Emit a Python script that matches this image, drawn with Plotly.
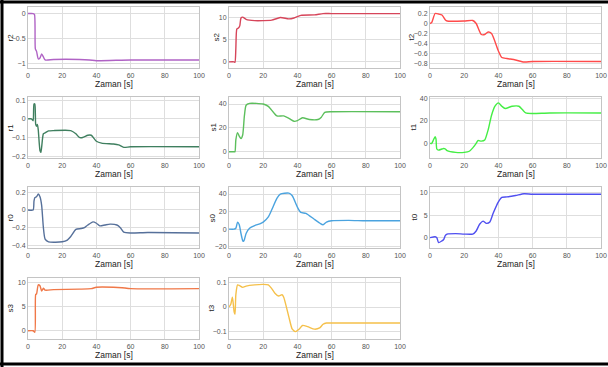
import plotly.graph_objects as go

# ---------------- data ----------------
r2_t = [0, 3, 3.8, 4.3, 5, 6, 7, 8, 9, 10, 15, 30, 36, 40, 60, 100]
r2_v = [0, 0, -0.02, -0.7, -0.75, -0.9, -0.88, -0.8, -0.86, -0.92, -0.91, -0.91, -0.92, -0.935, -0.92, -0.92]

s2_t = [0, 3, 3.5, 4, 4.6, 5.5, 6.3, 7, 8, 10, 15, 20, 25, 30, 35, 38, 42, 50, 55, 60, 100]
s2_v = [0, 0, -0.1, 3, 7.5, 7.7, 8.2, 10, 10.2, 9.7, 9.4, 9.4, 9.5, 10.1, 9.8, 10.0, 10.6, 10.7, 11, 11, 11]

t2_t = [0, 1, 3, 5, 7, 9, 10, 20, 25, 27, 30, 32, 34, 36, 40, 42, 45, 50, 55, 60, 100]
t2_v = [0, 0.02, 0.2, 0.19, 0.17, 0.07, 0.05, 0.05, 0.06, 0.0, -0.22, -0.22, -0.17, -0.2, -0.55, -0.68, -0.7, -0.73, -0.77, -0.76, -0.76]

r1_t = [0, 2, 3, 3.5, 4, 4.5, 5, 5.5, 6, 7, 7.5, 8, 9, 10, 12, 15, 25, 28, 30, 32, 35, 37, 40, 43, 50, 53, 56, 60, 100]
r1_v = [0, 0, -0.01, 0.08, 0.08, -0.03, -0.04, -0.03, -0.06, -0.17, -0.18, -0.15, -0.08, -0.075, -0.065, -0.063, -0.063, -0.08, -0.1, -0.1, -0.088, -0.088, -0.12, -0.13, -0.135, -0.14, -0.153, -0.15, -0.15]

s1_t = [0, 3, 3.5, 4, 5, 6, 7, 8, 9, 10, 12, 20, 23, 26, 28, 32, 35, 38, 40, 43, 47, 52, 54, 56, 60, 100]
s1_v = [0, 0, 0, 10, 16, 13, 11, 14, 30, 39, 40.5, 40, 38, 33, 30, 30, 28, 25.5, 26, 28.5, 27, 27, 29, 33, 33.5, 33.5]

t1_t = [0, 1, 2, 3, 3.5, 4, 5, 7, 8, 9, 10, 15, 20, 23, 25, 27, 28, 30, 32, 34, 36, 38, 40, 42, 44, 48, 52, 54, 56, 60, 70, 100]
t1_v = [0, 0, 3, 6, 4, -5, -6, -5, -4.5, -5, -6.5, -8, -8, -7, -4, 0, 2.5, 2, 3, 12, 25, 33, 36, 33, 31, 33, 33, 30, 27, 26.5, 27, 27]

r0_t = [0, 3, 3.5, 4, 5, 6, 7, 8, 9, 10, 12, 15, 20, 23, 25, 28, 31, 33, 35, 38, 40, 42, 45, 48, 52, 54, 56, 60, 70, 100]
r0_v = [0, 0, 0.1, 0.14, 0.15, 0.18, 0.15, 0.05, -0.2, -0.33, -0.36, -0.365, -0.36, -0.34, -0.3, -0.22, -0.21, -0.2, -0.17, -0.135, -0.15, -0.18, -0.17, -0.16, -0.17, -0.2, -0.25, -0.26, -0.255, -0.26]

s0_t = [0, 3, 4, 5, 6, 7, 8, 8.5, 9, 10, 12, 15, 18, 20, 23, 25, 28, 30, 35, 37, 40, 42, 45, 50, 53, 55, 57, 60, 70, 80, 100]
s0_v = [0, 0, 1, 8, 5, -5, -13, -14, -12, -5, 1, 4, 6, 8, 14, 22, 35, 40, 41, 38, 25, 19, 18, 11, 7, 5, 8, 9.5, 10, 9.5, 9.5]

t0_t = [0, 3, 4, 5, 7, 8, 9, 10, 15, 20, 25, 27, 29, 31, 33, 35, 37, 40, 42, 45, 50, 55, 60, 100]
t0_v = [0, 0.2, 0, -1.1, -0.7, -0.4, 0.5, 0.8, 0.9, 0.8, 0.8, 1.5, 3, 3.7, 3.2, 3.5, 5.5, 8, 9, 9.1, 9.4, 9.8, 9.7, 9.7]

s3_t = [0, 3, 4, 4.5, 5, 6, 7, 8, 9, 10, 15, 30, 37, 40, 50, 55, 60, 100]
s3_v = [0, 0, -0.3, 7.5, 7.6, 9.5, 9.3, 8.2, 8.8, 8.4, 8.5, 8.6, 8.7, 9, 9, 8.9, 8.7, 8.7]

t3_t = [0, 1, 2, 3, 3.5, 4, 5, 6, 8, 10, 15, 20, 23, 25, 27, 29, 31, 32, 35, 37, 39, 41, 43, 46, 50, 53, 55, 57, 60, 100]
t3_v = [0, 0.01, 0.04, -0.02, -0.03, 0.05, 0.09, 0.088, 0.08, 0.085, 0.09, 0.092, 0.09, 0.075, 0.055, 0.045, 0.05, 0.04, -0.04, -0.09, -0.1, -0.09, -0.075, -0.08, -0.09, -0.085, -0.07, -0.065, -0.065, -0.065]

x_ticks = [0, 20, 40, 60, 80, 100]
x_title = "Zaman [s]"

# name, time, values, colour, y-range, y-ticks, (row, col), title x (px)
panels = [
    ("r2", r2_t, r2_v, "#b063c5", [-1.08, 0.13], [0, -0.5, -1], (0, 0), 10),
    ("s2", s2_t, s2_v, "#d6455a", [-1.4, 12.5], [0, 5, 10], (0, 1), 216),
    ("t2", t2_t, t2_v, "#ff4a4a", [-0.89, 0.33], [0.2, 0, -0.2, -0.4, -0.6, -0.8], (0, 2), 411),
    ("r1", r1_t, r1_v, "#3f7f5f", [-0.21, 0.117], [0.1, 0, -0.1, -0.2], (1, 0), 10),
    ("s1", s1_t, s1_v, "#5cbf5c", [-5.3, 45.9], [0, 20, 40], (1, 1), 213),
    ("t1", t1_t, t1_v, "#44ee44", [-13, 41.2], [0, 20, 40], (1, 2), 413),
    ("r0", r0_t, r0_v, "#56709a", [-0.43, 0.26], [0.2, 0, -0.2, -0.4], (2, 0), 10),
    ("s0", s0_t, s0_v, "#4aa3df", [-21.5, 48], [-20, 0, 20, 40], (2, 1), 212),
    ("t0", t0_t, t0_v, "#4f4ff0", [-2.3, 11.3], [0, 5, 10], (2, 2), 414),
    ("s3", s3_t, s3_v, "#f07848", [-1.7, 10.9], [0, 5, 10], (3, 0), 10),
    ("t3", t3_t, t3_v, "#f5c04a", [-0.13, 0.118], [-0.1, 0, 0.1], (3, 1), 211),
]

W, H = 608, 367
col_x = [(28, 199), (229, 400), (430, 601)]
row_y = [(7, 68), (97, 158), (187, 248), (278, 339)]

fig = go.Figure()
layout = dict(
    width=W, height=H,
    margin=dict(l=0, r=0, t=0, b=0),
    paper_bgcolor="white", plot_bgcolor="white",
    showlegend=False,
    font=dict(family="Liberation Sans, Arial, sans-serif", size=7, color="#555"),
)
annotations = []

for i, (name, t, v, col, yr, yt, (r, c), tx) in enumerate(panels):
    k = "" if i == 0 else str(i + 1)
    fig.add_trace(go.Scatter(
        x=t, y=v, mode="lines", xaxis="x" + k, yaxis="y" + k,
        line=dict(color=col, width=1.4, shape="spline", smoothing=0.6),
        hoverinfo="skip",
    ))
    x0, x1 = col_x[c]
    y0, y1 = row_y[r]
    layout["xaxis" + k] = dict(
        domain=[x0 / W, x1 / W], anchor="y" + k, range=[0, 100], automargin=False,
        tickvals=x_ticks, showgrid=True, gridcolor="#dedede",
        gridwidth=1, zeroline=False, showline=True, linecolor="#c4c4c4",
        mirror=True, ticks="", ticklabelstandoff=1, tickfont=dict(size=7, color="#555"),
        fixedrange=True,
    )
    layout["yaxis" + k] = dict(
        domain=[1 - y1 / H, 1 - y0 / H], anchor="x" + k, range=yr, automargin=False,
        tickvals=yt, showgrid=True, gridcolor="#dedede", gridwidth=1,
        zeroline=False, showline=True, linecolor="#c4c4c4", mirror=True,
        ticks="", tickfont=dict(size=7, color="#555"), fixedrange=True,
    )
    annotations.append(dict(
        text=x_title, xref="paper", yref="paper", x=(x0 + x1) / 2 / W,
        y=1 - (y1 + 16) / H, xanchor="center", yanchor="middle", showarrow=False,
        font=dict(size=8.5, color="#222"),
    ))
    annotations.append(dict(
        text=name, xref="paper", yref="paper", x=tx / W,
        y=1 - (y0 + y1) / 2 / H, xanchor="center", yanchor="middle", showarrow=False,
        textangle=-90, font=dict(size=8, color="#222"),
    ))

layout["annotations"] = annotations
layout["shapes"] = [
    dict(type="line", xref="paper", yref="paper", x0=0, x1=1, y0=1 - 2 / H, y1=1 - 2 / H,
         line=dict(color="black", width=3)),
    dict(type="line", xref="paper", yref="paper", x0=2 / W, x1=2 / W, y0=0, y1=1,
         line=dict(color="black", width=3)),
    dict(type="line", xref="paper", yref="paper", x0=0, x1=1, y0=3 / H, y1=3 / H,
         line=dict(color="black", width=3)),
]

fig.update_layout(**layout)
fig.write_html(
    "out.html",
    config={"displayModeBar": False},
    post_script="document.body.style.margin='0px';document.body.style.overflow='hidden';",
)
